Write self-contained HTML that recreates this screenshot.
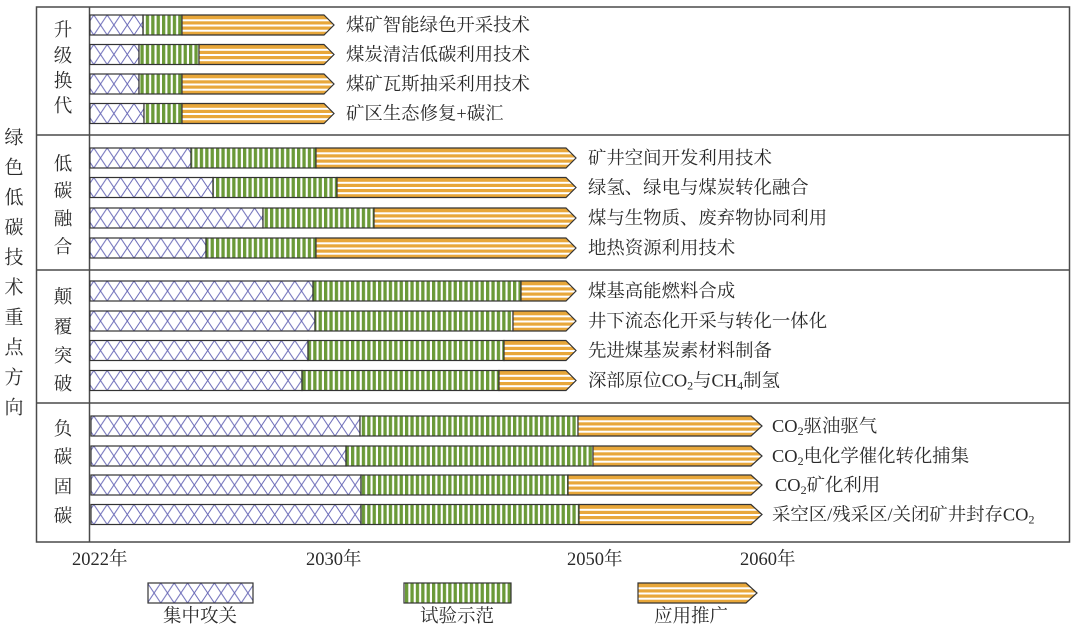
<!DOCTYPE html>
<html>
<head>
<meta charset="utf-8">
<style>
html,body{margin:0;padding:0;background:#fff;}
svg{display:block;}
text{font-family:"Liberation Serif","Noto Serif CJK SC",serif;fill:#2a2a2a;}
</style>
</head>
<body>
<svg width="1080" height="628" viewBox="0 0 1080 628" xmlns="http://www.w3.org/2000/svg">
<defs>
  <pattern id="cross" patternUnits="userSpaceOnUse" x="0" y="0" width="13.4" height="20">
    <rect width="13.4" height="20" fill="#fff"/>
    <line x1="0" y1="0" x2="13.4" y2="20" stroke="#6a6ab8" stroke-width="1"/>
    <line x1="13.4" y1="0" x2="0" y2="20" stroke="#6a6ab8" stroke-width="1"/>
  </pattern>
  <pattern id="green" patternUnits="userSpaceOnUse" x="0" y="0" width="5.4" height="20">
    <rect width="5.4" height="20" fill="#fff"/>
    <rect x="0" y="0" width="3.3" height="20" fill="#6b9a38"/>
  </pattern>
  <pattern id="orange" patternUnits="userSpaceOnUse" x="0" y="0" width="20" height="20">
    <rect width="20" height="20" fill="#e8a73a"/>
    <rect x="0" y="4.3" width="20" height="2" fill="#fff"/>
    <rect x="0" y="9.5" width="20" height="2" fill="#fff"/>
    <rect x="0" y="14.7" width="20" height="2" fill="#fff"/>
  </pattern>
</defs>

<!-- Frame -->
<g fill="none" stroke="#4a4a4a" stroke-width="1.5">
  <rect x="36.5" y="7" width="1033" height="535"/>
  <line x1="89.5" y1="7" x2="89.5" y2="542"/>
  <line x1="36.5" y1="135" x2="1069.5" y2="135"/>
  <line x1="36.5" y1="270" x2="1069.5" y2="270"/>
  <line x1="36.5" y1="403" x2="1069.5" y2="403"/>
</g>

<!-- Left vertical title -->
<g font-size="19" text-anchor="middle">
  <text x="14" y="138" dominant-baseline="central">绿</text>
  <text x="14" y="168" dominant-baseline="central">色</text>
  <text x="14" y="198" dominant-baseline="central">低</text>
  <text x="14" y="228" dominant-baseline="central">碳</text>
  <text x="14" y="258" dominant-baseline="central">技</text>
  <text x="14" y="288" dominant-baseline="central">术</text>
  <text x="14" y="318" dominant-baseline="central">重</text>
  <text x="14" y="348" dominant-baseline="central">点</text>
  <text x="14" y="378" dominant-baseline="central">方</text>
  <text x="14" y="408" dominant-baseline="central">向</text>
</g>

<!-- Group labels -->
<g font-size="18.5" text-anchor="middle">
  <text x="63" y="31" dominant-baseline="central">升</text>
  <text x="63" y="57" dominant-baseline="central">级</text>
  <text x="63" y="82" dominant-baseline="central">换</text>
  <text x="63" y="107" dominant-baseline="central">代</text>

  <text x="63" y="165" dominant-baseline="central">低</text>
  <text x="63" y="192" dominant-baseline="central">碳</text>
  <text x="63" y="220" dominant-baseline="central">融</text>
  <text x="63" y="248" dominant-baseline="central">合</text>

  <text x="63" y="298" dominant-baseline="central">颠</text>
  <text x="63" y="328" dominant-baseline="central">覆</text>
  <text x="63" y="357" dominant-baseline="central">突</text>
  <text x="63" y="385" dominant-baseline="central">破</text>

  <text x="63" y="430" dominant-baseline="central">负</text>
  <text x="63" y="458" dominant-baseline="central">碳</text>
  <text x="63" y="488" dominant-baseline="central">固</text>
  <text x="63" y="517" dominant-baseline="central">碳</text>
</g>

<!-- Bars -->
<g stroke="#333" stroke-width="1.2">
  <!-- Group 1 -->
  <g transform="translate(0,15)">
    <rect x="90" y="0" width="53" height="20" fill="url(#cross)"/>
    <rect x="143" y="0" width="39" height="20" fill="url(#green)"/>
    <polygon points="182,0 324,0 334,10 324,20 182,20" fill="url(#orange)"/>
  </g>
  <g transform="translate(0,44.5)">
    <rect x="90" y="0" width="49" height="20" fill="url(#cross)"/>
    <rect x="139" y="0" width="60" height="20" fill="url(#green)"/>
    <polygon points="199,0 324,0 334,10 324,20 199,20" fill="url(#orange)"/>
  </g>
  <g transform="translate(0,74)">
    <rect x="90" y="0" width="49" height="20" fill="url(#cross)"/>
    <rect x="139" y="0" width="43" height="20" fill="url(#green)"/>
    <polygon points="182,0 324,0 334,10 324,20 182,20" fill="url(#orange)"/>
  </g>
  <g transform="translate(0,103.5)">
    <rect x="90" y="0" width="54" height="20" fill="url(#cross)"/>
    <rect x="144" y="0" width="38" height="20" fill="url(#green)"/>
    <polygon points="182,0 324,0 334,10 324,20 182,20" fill="url(#orange)"/>
  </g>

  <!-- Group 2 -->
  <g transform="translate(0,148)">
    <rect x="90" y="0" width="101" height="20" fill="url(#cross)"/>
    <rect x="191" y="0" width="125" height="20" fill="url(#green)"/>
    <polygon points="316,0 566,0 576,10 566,20 316,20" fill="url(#orange)"/>
  </g>
  <g transform="translate(0,177.5)">
    <rect x="90" y="0" width="123" height="20" fill="url(#cross)"/>
    <rect x="213" y="0" width="124" height="20" fill="url(#green)"/>
    <polygon points="337,0 566,0 576,10 566,20 337,20" fill="url(#orange)"/>
  </g>
  <g transform="translate(0,208)">
    <rect x="90" y="0" width="173" height="20" fill="url(#cross)"/>
    <rect x="263" y="0" width="111" height="20" fill="url(#green)"/>
    <polygon points="374,0 566,0 576,10 566,20 374,20" fill="url(#orange)"/>
  </g>
  <g transform="translate(0,238)">
    <rect x="90" y="0" width="116" height="20" fill="url(#cross)"/>
    <rect x="206" y="0" width="110" height="20" fill="url(#green)"/>
    <polygon points="316,0 566,0 576,10 566,20 316,20" fill="url(#orange)"/>
  </g>

  <!-- Group 3 -->
  <g transform="translate(0,281)">
    <rect x="90" y="0" width="223" height="20" fill="url(#cross)"/>
    <rect x="313" y="0" width="208" height="20" fill="url(#green)"/>
    <polygon points="521,0 566,0 576,10 566,20 521,20" fill="url(#orange)"/>
  </g>
  <g transform="translate(0,311)">
    <rect x="90" y="0" width="225" height="20" fill="url(#cross)"/>
    <rect x="315" y="0" width="198" height="20" fill="url(#green)"/>
    <polygon points="513,0 566,0 576,10 566,20 513,20" fill="url(#orange)"/>
  </g>
  <g transform="translate(0,340.5)">
    <rect x="90" y="0" width="218" height="20" fill="url(#cross)"/>
    <rect x="308" y="0" width="196" height="20" fill="url(#green)"/>
    <polygon points="504,0 566,0 576,10 566,20 504,20" fill="url(#orange)"/>
  </g>
  <g transform="translate(0,370.5)">
    <rect x="90" y="0" width="212" height="20" fill="url(#cross)"/>
    <rect x="302" y="0" width="197" height="20" fill="url(#green)"/>
    <polygon points="499,0 566,0 576,10 566,20 499,20" fill="url(#orange)"/>
  </g>

  <!-- Group 4 -->
  <g transform="translate(0,416)">
    <rect x="91" y="0" width="269" height="20" fill="url(#cross)"/>
    <rect x="360" y="0" width="218" height="20" fill="url(#green)"/>
    <polygon points="578,0 751,0 762,10 751,20 578,20" fill="url(#orange)"/>
  </g>
  <g transform="translate(0,446)">
    <rect x="91" y="0" width="255" height="20" fill="url(#cross)"/>
    <rect x="346" y="0" width="247" height="20" fill="url(#green)"/>
    <polygon points="593,0 751,0 762,10 751,20 593,20" fill="url(#orange)"/>
  </g>
  <g transform="translate(0,475)">
    <rect x="91" y="0" width="270" height="20" fill="url(#cross)"/>
    <rect x="361" y="0" width="207" height="20" fill="url(#green)"/>
    <polygon points="568,0 751,0 762,10 751,20 568,20" fill="url(#orange)"/>
  </g>
  <g transform="translate(0,504.5)">
    <rect x="91" y="0" width="270" height="20" fill="url(#cross)"/>
    <rect x="361" y="0" width="218" height="20" fill="url(#green)"/>
    <polygon points="579,0 751,0 762,10 751,20 579,20" fill="url(#orange)"/>
  </g>
</g>

<!-- Row labels -->
<g font-size="18.4">
  <text x="346" y="25" dominant-baseline="central">煤矿智能绿色开采技术</text>
  <text x="346" y="54.5" dominant-baseline="central">煤炭清洁低碳利用技术</text>
  <text x="346" y="84" dominant-baseline="central">煤矿瓦斯抽采利用技术</text>
  <text x="346" y="113.5" dominant-baseline="central">矿区生态修复+碳汇</text>

  <text x="588" y="158" dominant-baseline="central">矿井空间开发利用技术</text>
  <text x="588" y="187.5" dominant-baseline="central">绿氢、绿电与煤炭转化融合</text>
  <text x="588" y="218" dominant-baseline="central">煤与生物质、废弃物协同利用</text>
  <text x="588" y="248" dominant-baseline="central">地热资源利用技术</text>

  <text x="588" y="291" dominant-baseline="central">煤基高能燃料合成</text>
  <text x="588" y="321" dominant-baseline="central">井下流态化开采与转化一体化</text>
  <text x="588" y="350.5" dominant-baseline="central">先进煤基炭素材料制备</text>
  <text x="588" y="380.5" dominant-baseline="central">深部原位CO<tspan font-size="12" dy="5">2</tspan><tspan dy="-5">与CH</tspan><tspan font-size="12" dy="5">4</tspan><tspan dy="-5">制氢</tspan></text>

  <text x="772" y="426" dominant-baseline="central">CO<tspan font-size="12" dy="5">2</tspan><tspan dy="-5">驱油驱气</tspan></text>
  <text x="772" y="456" dominant-baseline="central">CO<tspan font-size="12" dy="5">2</tspan><tspan dy="-5">电化学催化转化捕集</tspan></text>
  <text x="775" y="485" dominant-baseline="central">CO<tspan font-size="12" dy="5">2</tspan><tspan dy="-5">矿化利用</tspan></text>
  <text x="772" y="514.5" dominant-baseline="central">采空区/残采区/关闭矿井封存CO<tspan font-size="12" dy="5">2</tspan></text>
</g>

<!-- Year labels -->
<g font-size="18.5">
  <text x="72" y="560" dominant-baseline="central">2022年</text>
  <text x="306" y="560" dominant-baseline="central">2030年</text>
  <text x="567" y="560" dominant-baseline="central">2050年</text>
  <text x="740" y="560" dominant-baseline="central">2060年</text>
</g>

<!-- Legend -->
<g stroke="#333" stroke-width="1.2">
  <g transform="translate(0,583)">
    <rect x="148" y="0" width="105" height="20" fill="url(#cross)"/>
  </g>
  <g transform="translate(0,583)">
    <rect x="404" y="0" width="107" height="20" fill="url(#green)"/>
  </g>
  <g transform="translate(0,583)">
    <polygon points="638,0 746,0 757,10 746,20 638,20" fill="url(#orange)"/>
  </g>
</g>
<g font-size="18.5" text-anchor="middle">
  <text x="200" y="617" dominant-baseline="central">集中攻关</text>
  <text x="457" y="617" dominant-baseline="central">试验示范</text>
  <text x="691" y="617" dominant-baseline="central">应用推广</text>
</g>
</svg>
</body>
</html>
